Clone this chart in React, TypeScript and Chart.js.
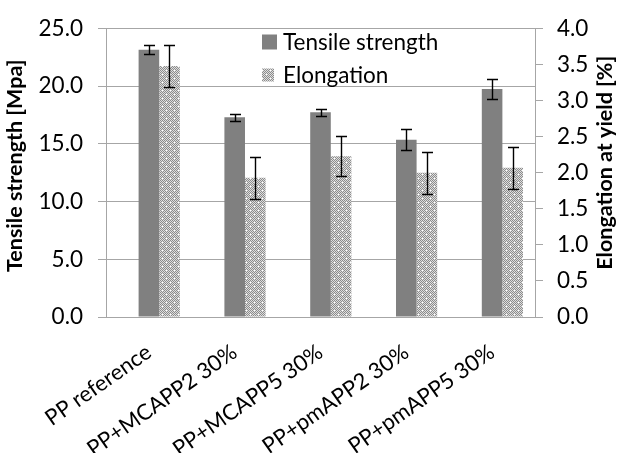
import React, { useEffect, useRef } from 'react';
import { Chart, registerables } from 'chart.js';

Chart.register(...registerables);

const categories = ['PP reference', 'PP+MCAPP2 30%', 'PP+MCAPP5 30%', 'PP+pmAPP2 30%', 'PP+pmAPP5 30%'];
const tensileStrength = [23.15, 17.3, 17.75, 15.35, 19.75];
const tensileError = [0.4, 0.3, 0.3, 0.9, 0.9];
const elongation = [3.48, 1.93, 2.23, 2.0, 2.07];
const elongationError = [0.29, 0.29, 0.28, 0.29, 0.29];
const spacerSeries = [null, null, null, null, null];
const leftAxisTitle = 'Tensile strength [Mpa]';
const rightAxisTitle = 'Elongation at yield [%]';
const legendLabels = ['Tensile strength', 'Elongation'];

const FONT = 'Lato, "Open Sans", sans-serif';
const GRID = '#a6a6a6';
const BAR = '#808080';
const TICK_SIZE = 22.5;
const XTICK_SIZE = 22;

function makePattern(): CanvasPattern | string {
  const c = document.createElement('canvas');
  c.width = 8;
  c.height = 8;
  const g = c.getContext('2d');
  if (!g) return '#bbbbbb';
  for (let y = 0; y < 8; y++) {
    for (let x = 0; x < 8; x++) {
      let col = (x + y) % 2 === 0 ? '#8c8c8c' : '#dedede';
      if ((x === 2 && y === 2) || (x === 6 && y === 6)) col = '#ffffff';
      g.fillStyle = col;
      g.fillRect(x, y, 1, 1);
    }
  }
  const p = g.createPattern(c, 'repeat');
  return p || '#bbbbbb';
}

export default function App() {
  const ref = useRef<HTMLCanvasElement | null>(null);

  useEffect(() => {
    const canvas = ref.current;
    if (!canvas) return;
    const pattern = makePattern();

    const overlay = {
      id: 'overlay',
      afterDatasetsDraw(chart: any) {
        const ctx = chart.ctx;
        const specs = [
          { ds: 1, err: tensileError, axis: 'y' },
          { ds: 2, err: elongationError, axis: 'y2' },
        ];
        ctx.save();
        ctx.strokeStyle = '#000';
        ctx.lineWidth = 1.4;
        specs.forEach((s) => {
          const meta = chart.getDatasetMeta(s.ds);
          const scale = chart.scales[s.axis];
          const values = chart.data.datasets[s.ds].data as number[];
          meta.data.forEach((bar: any, i: number) => {
            const v = values[i];
            const e = s.err[i];
            const x = Math.round(bar.x) + 0.5;
            const yt = Math.round(scale.getPixelForValue(v + e)) + 0.5;
            const yb = Math.round(scale.getPixelForValue(v - e)) + 0.5;
            ctx.beginPath();
            ctx.moveTo(x, yt);
            ctx.lineTo(x, yb);
            ctx.moveTo(x - 5.5, yt);
            ctx.lineTo(x + 5.5, yt);
            ctx.moveTo(x - 5.5, yb);
            ctx.lineTo(x + 5.5, yb);
            ctx.stroke();
          });
        });
        ctx.restore();
      },
      afterDraw(chart: any) {
        const ctx = chart.ctx;
        const area = chart.chartArea;
        const midY = (area.top + area.bottom) / 2 - 7;
        ctx.save();
        ctx.fillStyle = '#000';
        ctx.font = `bold 21.5px ${FONT}`;
        ctx.textAlign = 'center';
        ctx.textBaseline = 'middle';
        // left title
        ctx.save();
        ctx.translate(15, midY);
        ctx.rotate(-Math.PI / 2);
        ctx.fillText(leftAxisTitle, 0, 0);
        ctx.restore();
        // right title
        ctx.save();
        ctx.translate(chart.width - 12, midY - 3);
        ctx.rotate(-Math.PI / 2);
        ctx.fillText(rightAxisTitle, 0, 0);
        ctx.restore();

        // legend
        const lx = area.left + 156;
        const ly1 = area.top + 13;
        const ly2 = area.top + 46;
        ctx.fillStyle = BAR;
        ctx.fillRect(lx, ly1 - 7, 15, 15);
        ctx.fillStyle = pattern as any;
        ctx.fillRect(lx, ly2 - 6, 12, 13);
        ctx.fillStyle = '#000';
        ctx.font = `${TICK_SIZE}px ${FONT}`;
        ctx.textAlign = 'left';
        ctx.fillText(legendLabels[0], lx + 21, ly1 + 1);
        ctx.fillText(legendLabels[1], lx + 21, ly2 + 1);
        ctx.restore();
      },
    };

    const chart = new Chart(canvas, {
      type: 'bar',
      data: {
        labels: categories,
        datasets: [
          { label: '', data: spacerSeries as any, backgroundColor: 'rgba(0,0,0,0)', yAxisID: 'y' },
          { label: legendLabels[0], data: tensileStrength, backgroundColor: BAR, yAxisID: 'y' },
          { label: legendLabels[1], data: elongation, backgroundColor: pattern as any, yAxisID: 'y2' },
        ],
      },
      options: {
        responsive: false,
        animation: false,
        layout: { padding: { top: 24, left: 0, right: 0, bottom: 0 } },
        datasets: { bar: { categoryPercentage: 0.72, barPercentage: 1.0 } } as any,
        plugins: { legend: { display: false }, tooltip: { enabled: false }, title: { display: false } },
        scales: {
          x: {
            grid: { display: false },
            border: { display: true, color: GRID, width: 1 },
            ticks: {
              color: '#000',
              font: { family: FONT, size: XTICK_SIZE },
              minRotation: 35,
              maxRotation: 35,
              autoSkip: false,
              padding: 14,
            },
            afterFit: (s: any) => {
              s.height = 136;
            },
          },
          y: {
            position: 'left',
            min: 0,
            max: 25,
            grid: { color: GRID, tickLength: 8, drawTicks: true, lineWidth: 1 },
            border: { display: true, color: GRID, width: 1 },
            ticks: {
              stepSize: 5,
              color: '#000',
              font: { family: FONT, size: TICK_SIZE },
              padding: 15,
              callback: (v: any) => Number(v).toFixed(1),
            },
            afterFit: (s: any) => {
              s.width = 106;
            },
          },
          y2: {
            position: 'right',
            min: 0,
            max: 4,
            grid: { drawOnChartArea: false, color: GRID, tickLength: 8, drawTicks: true },
            border: { display: true, color: GRID, width: 1 },
            ticks: {
              stepSize: 0.5,
              color: '#000',
              font: { family: FONT, size: TICK_SIZE },
              padding: 14,
              callback: (v: any) => Number(v).toFixed(1),
            },
            afterFit: (s: any) => {
              s.width = 82;
            },
          },
        },
      },
      plugins: [overlay],
    });

    return () => chart.destroy();
  }, []);

  return (
    <div style={{ position: 'fixed', left: 0, top: 0, width: 617, height: 453, background: '#fff' }}>
      <canvas ref={ref} width={617} height={453} style={{ display: 'block' }} />
    </div>
  );
}
